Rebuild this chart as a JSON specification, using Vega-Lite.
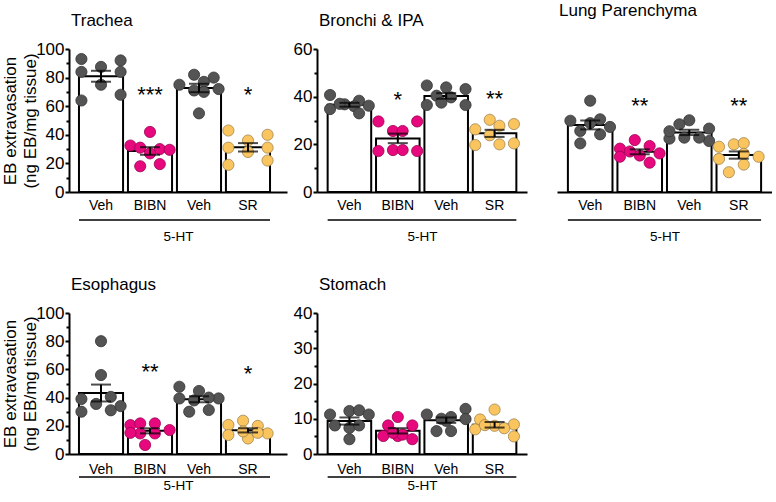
{
  "$schema": "https://vega.github.io/schema/vega-lite/v6.json",
  "padding": {"left": 1, "top": 2, "right": 0, "bottom": 0},
  "datasets": {
    "pts": [
      {"panel":"Trachea","group":"Veh1","value":93,"col":-4},{"panel":"Trachea","group":"Veh1","value":87.5,"col":0},{"panel":"Trachea","group":"Veh1","value":92,"col":4},{"panel":"Trachea","group":"Veh1","value":84,"col":-4},{"panel":"Trachea","group":"Veh1","value":84,"col":4},{"panel":"Trachea","group":"Veh1","value":75,"col":0},{"panel":"Trachea","group":"Veh1","value":64,"col":-4},{"panel":"Trachea","group":"Veh1","value":68,"col":4},
      {"panel":"Trachea","group":"BIBN","value":42,"col":0},{"panel":"Trachea","group":"BIBN","value":32.5,"col":-4},{"panel":"Trachea","group":"BIBN","value":31,"col":-2},{"panel":"Trachea","group":"BIBN","value":30,"col":2},{"panel":"Trachea","group":"BIBN","value":29.5,"col":4},{"panel":"Trachea","group":"BIBN","value":27,"col":0},{"panel":"Trachea","group":"BIBN","value":19.5,"col":2},{"panel":"Trachea","group":"BIBN","value":18,"col":-2},
      {"panel":"Trachea","group":"Veh2","value":82,"col":-1},{"panel":"Trachea","group":"Veh2","value":80,"col":3},{"panel":"Trachea","group":"Veh2","value":75,"col":-4},{"panel":"Trachea","group":"Veh2","value":77,"col":1},{"panel":"Trachea","group":"Veh2","value":72,"col":4},{"panel":"Trachea","group":"Veh2","value":71,"col":-1},{"panel":"Trachea","group":"Veh2","value":70,"col":1},{"panel":"Trachea","group":"Veh2","value":55,"col":0},
      {"panel":"Trachea","group":"SR","value":43,"col":-4},{"panel":"Trachea","group":"SR","value":31,"col":-4},{"panel":"Trachea","group":"SR","value":19,"col":-4},{"panel":"Trachea","group":"SR","value":36,"col":0},{"panel":"Trachea","group":"SR","value":28,"col":0},{"panel":"Trachea","group":"SR","value":40,"col":4},{"panel":"Trachea","group":"SR","value":31,"col":4},{"panel":"Trachea","group":"SR","value":22,"col":4},

      {"panel":"Bronchi","group":"Veh1","value":40.7,"col":-4},{"panel":"Bronchi","group":"Veh1","value":38.3,"col":2},{"panel":"Bronchi","group":"Veh1","value":34.8,"col":-4},{"panel":"Bronchi","group":"Veh1","value":36.8,"col":-1},{"panel":"Bronchi","group":"Veh1","value":36,"col":1},{"panel":"Bronchi","group":"Veh1","value":36.2,"col":4},{"panel":"Bronchi","group":"Veh1","value":33,"col":2},{"panel":"Bronchi","group":"Veh1","value":37,"col":-2},
      {"panel":"Bronchi","group":"BIBN","value":29.6,"col":-4},{"panel":"Bronchi","group":"BIBN","value":29.6,"col":4},{"panel":"Bronchi","group":"BIBN","value":25.6,"col":-1},{"panel":"Bronchi","group":"BIBN","value":25.6,"col":1},{"panel":"Bronchi","group":"BIBN","value":17.2,"col":-4},{"panel":"Bronchi","group":"BIBN","value":17.6,"col":-1},{"panel":"Bronchi","group":"BIBN","value":17.6,"col":1},{"panel":"Bronchi","group":"BIBN","value":17.2,"col":4},
      {"panel":"Bronchi","group":"Veh2","value":44.7,"col":-4},{"panel":"Bronchi","group":"Veh2","value":43.9,"col":0},{"panel":"Bronchi","group":"Veh2","value":43.2,"col":4},{"panel":"Bronchi","group":"Veh2","value":36.5,"col":-4},{"panel":"Bronchi","group":"Veh2","value":40.4,"col":-2},{"panel":"Bronchi","group":"Veh2","value":39.7,"col":1},{"panel":"Bronchi","group":"Veh2","value":36.5,"col":4},{"panel":"Bronchi","group":"Veh2","value":37.5,"col":-1},
      {"panel":"Bronchi","group":"SR","value":30.3,"col":-1},{"panel":"Bronchi","group":"SR","value":26.3,"col":-4},{"panel":"Bronchi","group":"SR","value":27.8,"col":1},{"panel":"Bronchi","group":"SR","value":28.5,"col":4},{"panel":"Bronchi","group":"SR","value":23.8,"col":-1},{"panel":"Bronchi","group":"SR","value":19.7,"col":-4},{"panel":"Bronchi","group":"SR","value":20,"col":1},{"panel":"Bronchi","group":"SR","value":20.4,"col":4},

      {"panel":"Lung","group":"Veh1","value":38.3,"col":0},{"panel":"Lung","group":"Veh1","value":29.9,"col":-4},{"panel":"Lung","group":"Veh1","value":28.9,"col":0},{"panel":"Lung","group":"Veh1","value":30.5,"col":2},{"panel":"Lung","group":"Veh1","value":27.3,"col":4},{"panel":"Lung","group":"Veh1","value":25.6,"col":-2},{"panel":"Lung","group":"Veh1","value":24.2,"col":2},{"panel":"Lung","group":"Veh1","value":20.4,"col":-2},
      {"panel":"Lung","group":"BIBN","value":21.8,"col":-1},{"panel":"Lung","group":"BIBN","value":18.2,"col":-4},{"panel":"Lung","group":"BIBN","value":19.3,"col":2},{"panel":"Lung","group":"BIBN","value":15.3,"col":0},{"panel":"Lung","group":"BIBN","value":14.8,"col":-4},{"panel":"Lung","group":"BIBN","value":16.2,"col":4},{"panel":"Lung","group":"BIBN","value":12.3,"col":2},{"panel":"Lung","group":"BIBN","value":17,"col":-2},
      {"panel":"Lung","group":"Veh2","value":30.1,"col":0},{"panel":"Lung","group":"Veh2","value":28.4,"col":-2},{"panel":"Lung","group":"Veh2","value":26.6,"col":4},{"panel":"Lung","group":"Veh2","value":22.4,"col":-4},{"panel":"Lung","group":"Veh2","value":21.4,"col":4},{"panel":"Lung","group":"Veh2","value":22.8,"col":-1},{"panel":"Lung","group":"Veh2","value":22.8,"col":2},{"panel":"Lung","group":"Veh2","value":25.5,"col":-4},
      {"panel":"Lung","group":"SR","value":20,"col":-1},{"panel":"Lung","group":"SR","value":20.5,"col":1},{"panel":"Lung","group":"SR","value":19,"col":-4},{"panel":"Lung","group":"SR","value":14.8,"col":4},{"panel":"Lung","group":"SR","value":16,"col":1},{"panel":"Lung","group":"SR","value":13.9,"col":-4},{"panel":"Lung","group":"SR","value":11.5,"col":1},{"panel":"Lung","group":"SR","value":8.3,"col":-2},

      {"panel":"Esophagus","group":"Veh1","value":80,"col":0},{"panel":"Esophagus","group":"Veh1","value":56,"col":0},{"panel":"Esophagus","group":"Veh1","value":39,"col":-4},{"panel":"Esophagus","group":"Veh1","value":40.5,"col":2},{"panel":"Esophagus","group":"Veh1","value":30,"col":-4},{"panel":"Esophagus","group":"Veh1","value":35.5,"col":-1},{"panel":"Esophagus","group":"Veh1","value":31,"col":2},{"panel":"Esophagus","group":"Veh1","value":34,"col":4},
      {"panel":"Esophagus","group":"BIBN","value":20.5,"col":-4},{"panel":"Esophagus","group":"BIBN","value":21.7,"col":-2},{"panel":"Esophagus","group":"BIBN","value":21.7,"col":1},{"panel":"Esophagus","group":"BIBN","value":17,"col":4},{"panel":"Esophagus","group":"BIBN","value":14.6,"col":-2},{"panel":"Esophagus","group":"BIBN","value":14.6,"col":1},{"panel":"Esophagus","group":"BIBN","value":6.4,"col":-1},{"panel":"Esophagus","group":"BIBN","value":15,"col":-4},
      {"panel":"Esophagus","group":"Veh2","value":47.7,"col":-4},{"panel":"Esophagus","group":"Veh2","value":44.7,"col":0},{"panel":"Esophagus","group":"Veh2","value":39.4,"col":4},{"panel":"Esophagus","group":"Veh2","value":30,"col":-2},{"panel":"Esophagus","group":"Veh2","value":31.2,"col":2},{"panel":"Esophagus","group":"Veh2","value":39.4,"col":-4},{"panel":"Esophagus","group":"Veh2","value":38,"col":-1},{"panel":"Esophagus","group":"Veh2","value":40,"col":2},
      {"panel":"Esophagus","group":"SR","value":20.6,"col":-4},{"panel":"Esophagus","group":"SR","value":23.6,"col":-1},{"panel":"Esophagus","group":"SR","value":19.9,"col":2},{"panel":"Esophagus","group":"SR","value":13.5,"col":-4},{"panel":"Esophagus","group":"SR","value":14.6,"col":4},{"panel":"Esophagus","group":"SR","value":11,"col":0},{"panel":"Esophagus","group":"SR","value":16,"col":-1},{"panel":"Esophagus","group":"SR","value":15,"col":2},

      {"panel":"Stomach","group":"Veh1","value":11.2,"col":-4},{"panel":"Stomach","group":"Veh1","value":12.2,"col":0},{"panel":"Stomach","group":"Veh1","value":12.4,"col":2},{"panel":"Stomach","group":"Veh1","value":11.2,"col":4},{"panel":"Stomach","group":"Veh1","value":8.1,"col":-3},{"panel":"Stomach","group":"Veh1","value":7.4,"col":0},{"panel":"Stomach","group":"Veh1","value":8.1,"col":2},{"panel":"Stomach","group":"Veh1","value":4.2,"col":0},
      {"panel":"Stomach","group":"BIBN","value":10.5,"col":0},{"panel":"Stomach","group":"BIBN","value":8.1,"col":-2},{"panel":"Stomach","group":"BIBN","value":8.1,"col":3},{"panel":"Stomach","group":"BIBN","value":5.1,"col":-3},{"panel":"Stomach","group":"BIBN","value":5.1,"col":0},{"panel":"Stomach","group":"BIBN","value":5.5,"col":1},{"panel":"Stomach","group":"BIBN","value":4.2,"col":3},{"panel":"Stomach","group":"BIBN","value":6,"col":-1},
      {"panel":"Stomach","group":"Veh2","value":11.2,"col":-4},{"panel":"Stomach","group":"Veh2","value":12.8,"col":4},{"panel":"Stomach","group":"Veh2","value":9.9,"col":4},{"panel":"Stomach","group":"Veh2","value":9.4,"col":0},{"panel":"Stomach","group":"Veh2","value":6.5,"col":-2},{"panel":"Stomach","group":"Veh2","value":6.5,"col":1},{"panel":"Stomach","group":"Veh2","value":10.5,"col":1},{"panel":"Stomach","group":"Veh2","value":10,"col":-1},
      {"panel":"Stomach","group":"SR","value":12.6,"col":0},{"panel":"Stomach","group":"SR","value":9.8,"col":-3},{"panel":"Stomach","group":"SR","value":8.4,"col":4},{"panel":"Stomach","group":"SR","value":7,"col":-4},{"panel":"Stomach","group":"SR","value":8,"col":0},{"panel":"Stomach","group":"SR","value":7.3,"col":2},{"panel":"Stomach","group":"SR","value":5,"col":4},{"panel":"Stomach","group":"SR","value":8.2,"col":-2}
    ],
    "stars": [
      {"panel":"Trachea","group":"BIBN","label":"***","y":68},{"panel":"Trachea","group":"SR","label":"*","y":68},
      {"panel":"Bronchi","group":"BIBN","label":"*","y":38.4},{"panel":"Bronchi","group":"SR","label":"**","y":39},
      {"panel":"Lung","group":"BIBN","label":"**","y":36.2},{"panel":"Lung","group":"SR","label":"**","y":36.2},
      {"panel":"Esophagus","group":"BIBN","label":"**","y":58},{"panel":"Esophagus","group":"SR","label":"*","y":57}
    ],
    "brackets": [
      {"panel":"Trachea","from":"Veh1","to":"SR"},{"panel":"Bronchi","from":"Veh1","to":"SR"},{"panel":"Lung","from":"Veh1","to":"SR"},{"panel":"Esophagus","from":"Veh1","to":"SR"},{"panel":"Stomach","from":"Veh1","to":"SR"}
    ]
  },
  "vconcat": [
    {
      "bounds": "flush",
      "spacing": 30,
      "resolve": {"scale": {"x": "independent", "y": "independent"}},
      "hconcat": [
        {
          "width": 218, "height": 143,
          "title": {"text": "Trachea", "offset": 10, "frame": "group", "dx": 2},
          "resolve": {"axis": {"y": "independent"}, "scale": {"xOffset": "independent"}},
          "layer": [
            {"data": {"name": "pts"}, "transform": [{"filter": "datum.panel === 'Trachea'"}],
             "mark": {"type": "bar", "fill": "white", "stroke": "black", "strokeWidth": 2, "width": {"band": 1}},
             "encoding": {
               "x": {"field": "group", "type": "nominal", "scale": {"type": "band", "domain": ["Veh1","BIBN","Veh2","SR"], "paddingInner": 0.1, "paddingOuter": 0.275, "align": 0.37},
                     "axis": {"title": "5-HT", "labelExpr": "datum.value == 'Veh1' || datum.value == 'Veh2' ? 'Veh' : datum.value"}},
               "y": {"aggregate": "mean", "field": "value", "type": "quantitative", "scale": {"domain": [0, 100], "nice": false},
                     "axis": {"values": [0,20,40,60,80,100], "title": ["EB extravasation", "(ng EB/mg tissue)"]}}
             }},
            {"data": {"name": "pts"}, "transform": [{"filter": "datum.panel === 'Trachea'"}],
             "mark": {"type": "circle", "size": 125, "opacity": 1, "strokeWidth": 0.8},
             "encoding": {
               "x": {"field": "group", "type": "nominal"},
               "xOffset": {"field": "col", "type": "ordinal", "scale": {"domain": [-4,-3,-2,-1,0,1,2,3,4], "paddingInner": 0, "paddingOuter": 0.5}},
               "y": {"field": "value", "type": "quantitative", "axis": {"orient": "left", "values": [10,30,50,70,90], "labels": false, "domain": false, "tickSize": 3, "title": null}},
               "fill": {"field": "group", "type": "nominal", "scale": {"domain": ["Veh1","BIBN","Veh2","SR"], "range": ["#545454","#e8087e","#545454","#fac45f"]}, "legend": null},
               "stroke": {"field": "group", "type": "nominal", "scale": {"domain": ["Veh1","BIBN","Veh2","SR"], "range": ["#333333","#9a0052","#333333","#a08550"]}, "legend": null}
             }},
            {"data": {"name": "pts"}, "transform": [{"filter": "datum.panel === 'Trachea'"}],
             "mark": {"type": "errorbar", "extent": "stderr", "color": "black", "ticks": {"size": 20, "thickness": 2, "color": "black"}, "rule": {"strokeWidth": 2, "color": "black"}},
             "encoding": {"x": {"field": "group", "type": "nominal"}, "y": {"field": "value", "type": "quantitative", "axis": null}}},
            {"data": {"name": "stars"}, "transform": [{"filter": "datum.panel === 'Trachea'"}],
             "mark": {"type": "text", "fontSize": 22, "baseline": "middle", "color": "black"},
             "encoding": {"x": {"field": "group", "type": "nominal"}, "y": {"field": "y", "type": "quantitative", "axis": null}, "text": {"field": "label"}}},
            {"data": {"name": "brackets"}, "transform": [{"filter": "datum.panel === 'Trachea'"}],
             "mark": {"type": "rule", "yOffset": 28, "strokeWidth": 1.5, "color": "black"},
             "encoding": {"x": {"field": "from", "type": "nominal", "bandPosition": 0}, "x2": {"field": "to", "bandPosition": 1}, "y": {"datum": 0, "type": "quantitative", "axis": null}}}
          ]
        },
        {
          "width": 210, "height": 143,
          "title": {"text": "Bronchi & IPA", "offset": 10, "frame": "group", "dx": 2},
          "resolve": {"axis": {"y": "independent"}, "scale": {"xOffset": "independent"}},
          "layer": [
            {"data": {"name": "pts"}, "transform": [{"filter": "datum.panel === 'Bronchi'"}],
             "mark": {"type": "bar", "fill": "white", "stroke": "black", "strokeWidth": 2, "width": {"band": 1}},
             "encoding": {
               "x": {"field": "group", "type": "nominal", "scale": {"type": "band", "domain": ["Veh1","BIBN","Veh2","SR"], "paddingInner": 0.1, "paddingOuter": 0.22},
                     "axis": {"title": "5-HT", "labelExpr": "datum.value == 'Veh1' || datum.value == 'Veh2' ? 'Veh' : datum.value"}},
               "y": {"aggregate": "mean", "field": "value", "type": "quantitative", "scale": {"domain": [0, 60], "nice": false},
                     "axis": {"values": [0,20,40,60], "title": null}}
             }},
            {"data": {"name": "pts"}, "transform": [{"filter": "datum.panel === 'Bronchi'"}],
             "mark": {"type": "circle", "size": 125, "opacity": 1, "strokeWidth": 0.8},
             "encoding": {
               "x": {"field": "group", "type": "nominal"},
               "xOffset": {"field": "col", "type": "ordinal", "scale": {"domain": [-4,-3,-2,-1,0,1,2,3,4], "paddingInner": 0, "paddingOuter": 0.5}},
               "y": {"field": "value", "type": "quantitative", "axis": {"orient": "left", "values": [10,30,50], "labels": false, "domain": false, "tickSize": 3, "title": null}},
               "fill": {"field": "group", "type": "nominal", "scale": {"domain": ["Veh1","BIBN","Veh2","SR"], "range": ["#545454","#e8087e","#545454","#fac45f"]}, "legend": null},
               "stroke": {"field": "group", "type": "nominal", "scale": {"domain": ["Veh1","BIBN","Veh2","SR"], "range": ["#333333","#9a0052","#333333","#a08550"]}, "legend": null}
             }},
            {"data": {"name": "pts"}, "transform": [{"filter": "datum.panel === 'Bronchi'"}],
             "mark": {"type": "errorbar", "extent": "stderr", "color": "black", "ticks": {"size": 20, "thickness": 2, "color": "black"}, "rule": {"strokeWidth": 2, "color": "black"}},
             "encoding": {"x": {"field": "group", "type": "nominal"}, "y": {"field": "value", "type": "quantitative", "axis": null}}},
            {"data": {"name": "stars"}, "transform": [{"filter": "datum.panel === 'Bronchi'"}],
             "mark": {"type": "text", "fontSize": 22, "baseline": "middle", "color": "black"},
             "encoding": {"x": {"field": "group", "type": "nominal"}, "y": {"field": "y", "type": "quantitative", "axis": null}, "text": {"field": "label"}}},
            {"data": {"name": "brackets"}, "transform": [{"filter": "datum.panel === 'Bronchi'"}],
             "mark": {"type": "rule", "yOffset": 28, "strokeWidth": 1.5, "color": "black"},
             "encoding": {"x": {"field": "from", "type": "nominal", "bandPosition": 0}, "x2": {"field": "to", "bandPosition": 1}, "y": {"datum": 0, "type": "quantitative", "axis": null}}}
          ]
        },
        {
          "width": 215, "height": 143,
          "title": {"text": "Lung Parenchyma", "offset": 29, "frame": "group", "dx": 2},
          "resolve": {"scale": {"xOffset": "independent"}},
          "layer": [
            {"data": {"name": "pts"}, "transform": [{"filter": "datum.panel === 'Lung'"}],
             "mark": {"type": "bar", "fill": "white", "stroke": "black", "strokeWidth": 2, "width": {"band": 1}},
             "encoding": {
               "x": {"field": "group", "type": "nominal", "scale": {"type": "band", "domain": ["Veh1","BIBN","Veh2","SR"], "paddingInner": 0.1, "paddingOuter": 0.22},
                     "axis": {"title": "5-HT", "labelExpr": "datum.value == 'Veh1' || datum.value == 'Veh2' ? 'Veh' : datum.value"}},
               "y": {"aggregate": "mean", "field": "value", "type": "quantitative", "scale": {"domain": [0, 60], "nice": false}, "axis": null}
             }},
            {"data": {"name": "pts"}, "transform": [{"filter": "datum.panel === 'Lung'"}],
             "mark": {"type": "circle", "size": 125, "opacity": 1, "strokeWidth": 0.8},
             "encoding": {
               "x": {"field": "group", "type": "nominal"},
               "xOffset": {"field": "col", "type": "ordinal", "scale": {"domain": [-4,-3,-2,-1,0,1,2,3,4], "paddingInner": 0, "paddingOuter": 0.5}},
               "y": {"field": "value", "type": "quantitative", "axis": null},
               "fill": {"field": "group", "type": "nominal", "scale": {"domain": ["Veh1","BIBN","Veh2","SR"], "range": ["#545454","#e8087e","#545454","#fac45f"]}, "legend": null},
               "stroke": {"field": "group", "type": "nominal", "scale": {"domain": ["Veh1","BIBN","Veh2","SR"], "range": ["#333333","#9a0052","#333333","#a08550"]}, "legend": null}
             }},
            {"data": {"name": "pts"}, "transform": [{"filter": "datum.panel === 'Lung'"}],
             "mark": {"type": "errorbar", "extent": "stderr", "color": "black", "ticks": {"size": 20, "thickness": 2, "color": "black"}, "rule": {"strokeWidth": 2, "color": "black"}},
             "encoding": {"x": {"field": "group", "type": "nominal"}, "y": {"field": "value", "type": "quantitative", "axis": null}}},
            {"data": {"name": "stars"}, "transform": [{"filter": "datum.panel === 'Lung'"}],
             "mark": {"type": "text", "fontSize": 22, "baseline": "middle", "color": "black"},
             "encoding": {"x": {"field": "group", "type": "nominal"}, "y": {"field": "y", "type": "quantitative", "axis": null}, "text": {"field": "label"}}},
            {"data": {"name": "brackets"}, "transform": [{"filter": "datum.panel === 'Lung'"}],
             "mark": {"type": "rule", "yOffset": 28, "strokeWidth": 1.5, "color": "black"},
             "encoding": {"x": {"field": "from", "type": "nominal", "bandPosition": 0}, "x2": {"field": "to", "bandPosition": 1}, "y": {"datum": 0, "type": "quantitative", "axis": null}}}
          ]
        }
      ]
    },
    {
      "bounds": "flush",
      "spacing": 30,
      "resolve": {"scale": {"x": "independent", "y": "independent"}},
      "hconcat": [
        {
          "width": 218, "height": 141,
          "title": {"text": "Esophagus", "offset": 10, "frame": "group", "dx": 2},
          "resolve": {"axis": {"y": "independent"}, "scale": {"xOffset": "independent"}},
          "layer": [
            {"data": {"name": "pts"}, "transform": [{"filter": "datum.panel === 'Esophagus'"}],
             "mark": {"type": "bar", "fill": "white", "stroke": "black", "strokeWidth": 2, "width": {"band": 1}},
             "encoding": {
               "x": {"field": "group", "type": "nominal", "scale": {"type": "band", "domain": ["Veh1","BIBN","Veh2","SR"], "paddingInner": 0.1, "paddingOuter": 0.275, "align": 0.37},
                     "axis": {"title": "5-HT", "labelPadding": 8, "titlePadding": 2, "labelExpr": "datum.value == 'Veh1' || datum.value == 'Veh2' ? 'Veh' : datum.value"}},
               "y": {"aggregate": "mean", "field": "value", "type": "quantitative", "scale": {"domain": [0, 100], "nice": false},
                     "axis": {"values": [0,20,40,60,80,100], "title": ["EB extravasation", "(ng EB/mg tissue)"]}}
             }},
            {"data": {"name": "pts"}, "transform": [{"filter": "datum.panel === 'Esophagus'"}],
             "mark": {"type": "circle", "size": 125, "opacity": 1, "strokeWidth": 0.8},
             "encoding": {
               "x": {"field": "group", "type": "nominal"},
               "xOffset": {"field": "col", "type": "ordinal", "scale": {"domain": [-4,-3,-2,-1,0,1,2,3,4], "paddingInner": 0, "paddingOuter": 0.5}},
               "y": {"field": "value", "type": "quantitative", "axis": {"orient": "left", "values": [10,30,50,70,90], "labels": false, "domain": false, "tickSize": 3, "title": null}},
               "fill": {"field": "group", "type": "nominal", "scale": {"domain": ["Veh1","BIBN","Veh2","SR"], "range": ["#545454","#e8087e","#545454","#fac45f"]}, "legend": null},
               "stroke": {"field": "group", "type": "nominal", "scale": {"domain": ["Veh1","BIBN","Veh2","SR"], "range": ["#333333","#9a0052","#333333","#a08550"]}, "legend": null}
             }},
            {"data": {"name": "pts"}, "transform": [{"filter": "datum.panel === 'Esophagus'"}],
             "mark": {"type": "errorbar", "extent": "stderr", "color": "black", "ticks": {"size": 20, "thickness": 2, "color": "black"}, "rule": {"strokeWidth": 2, "color": "black"}},
             "encoding": {"x": {"field": "group", "type": "nominal"}, "y": {"field": "value", "type": "quantitative", "axis": null}}},
            {"data": {"name": "stars"}, "transform": [{"filter": "datum.panel === 'Esophagus'"}],
             "mark": {"type": "text", "fontSize": 22, "baseline": "middle", "color": "black"},
             "encoding": {"x": {"field": "group", "type": "nominal"}, "y": {"field": "y", "type": "quantitative", "axis": null}, "text": {"field": "label"}}},
            {"data": {"name": "brackets"}, "transform": [{"filter": "datum.panel === 'Esophagus'"}],
             "mark": {"type": "rule", "yOffset": 23, "strokeWidth": 1.5, "color": "black"},
             "encoding": {"x": {"field": "from", "type": "nominal", "bandPosition": 0}, "x2": {"field": "to", "bandPosition": 1}, "y": {"datum": 0, "type": "quantitative", "axis": null}}}
          ]
        },
        {
          "width": 210, "height": 141,
          "title": {"text": "Stomach", "offset": 10, "frame": "group", "dx": 2},
          "resolve": {"axis": {"y": "independent"}, "scale": {"xOffset": "independent"}},
          "layer": [
            {"data": {"name": "pts"}, "transform": [{"filter": "datum.panel === 'Stomach'"}],
             "mark": {"type": "bar", "fill": "white", "stroke": "black", "strokeWidth": 2, "width": {"band": 1}},
             "encoding": {
               "x": {"field": "group", "type": "nominal", "scale": {"type": "band", "domain": ["Veh1","BIBN","Veh2","SR"], "paddingInner": 0.1, "paddingOuter": 0.22},
                     "axis": {"title": "5-HT", "labelPadding": 8, "titlePadding": 2, "labelExpr": "datum.value == 'Veh1' || datum.value == 'Veh2' ? 'Veh' : datum.value"}},
               "y": {"aggregate": "mean", "field": "value", "type": "quantitative", "scale": {"domain": [0, 40], "nice": false},
                     "axis": {"values": [0,10,20,30,40], "title": null}}
             }},
            {"data": {"name": "pts"}, "transform": [{"filter": "datum.panel === 'Stomach'"}],
             "mark": {"type": "circle", "size": 125, "opacity": 1, "strokeWidth": 0.8},
             "encoding": {
               "x": {"field": "group", "type": "nominal"},
               "xOffset": {"field": "col", "type": "ordinal", "scale": {"domain": [-4,-3,-2,-1,0,1,2,3,4], "paddingInner": 0, "paddingOuter": 0.5}},
               "y": {"field": "value", "type": "quantitative", "axis": {"orient": "left", "values": [5,15,25,35], "labels": false, "domain": false, "tickSize": 3, "title": null}},
               "fill": {"field": "group", "type": "nominal", "scale": {"domain": ["Veh1","BIBN","Veh2","SR"], "range": ["#545454","#e8087e","#545454","#fac45f"]}, "legend": null},
               "stroke": {"field": "group", "type": "nominal", "scale": {"domain": ["Veh1","BIBN","Veh2","SR"], "range": ["#333333","#9a0052","#333333","#a08550"]}, "legend": null}
             }},
            {"data": {"name": "pts"}, "transform": [{"filter": "datum.panel === 'Stomach'"}],
             "mark": {"type": "errorbar", "extent": "stderr", "color": "black", "ticks": {"size": 20, "thickness": 2, "color": "black"}, "rule": {"strokeWidth": 2, "color": "black"}},
             "encoding": {"x": {"field": "group", "type": "nominal"}, "y": {"field": "value", "type": "quantitative", "axis": null}}},
            {"data": {"name": "brackets"}, "transform": [{"filter": "datum.panel === 'Stomach'"}],
             "mark": {"type": "rule", "yOffset": 23, "strokeWidth": 1.5, "color": "black"},
             "encoding": {"x": {"field": "from", "type": "nominal", "bandPosition": 0}, "x2": {"field": "to", "bandPosition": 1}, "y": {"datum": 0, "type": "quantitative", "axis": null}}}
          ]
        }
      ]
    }
  ],
  "spacing": 33,
  "resolve": {"scale": {"x": "independent", "y": "independent"}},
  "config": {
    "font": "Liberation Sans",
    "view": {"stroke": null},
    "axis": {"domainColor": "black", "domainWidth": 2, "tickColor": "black", "tickWidth": 2, "labelColor": "black", "titleColor": "black", "grid": false, "labelFont": "Liberation Sans", "titleFont": "Liberation Sans", "titleFontWeight": "normal"},
    "axisX": {"ticks": false, "tickSize": 0, "labelFontSize": 14, "labelPadding": 6, "labelAngle": 0, "titleFontSize": 13.5, "titlePadding": 17},
    "axisY": {"labelFontSize": 17, "tickSize": 4, "labelPadding": 1, "titleFontSize": 17, "titleLineHeight": 20, "titlePadding": -4},
    "title": {"fontSize": 17, "fontWeight": "normal", "anchor": "start", "color": "black", "font": "Liberation Sans"}
  }
}
